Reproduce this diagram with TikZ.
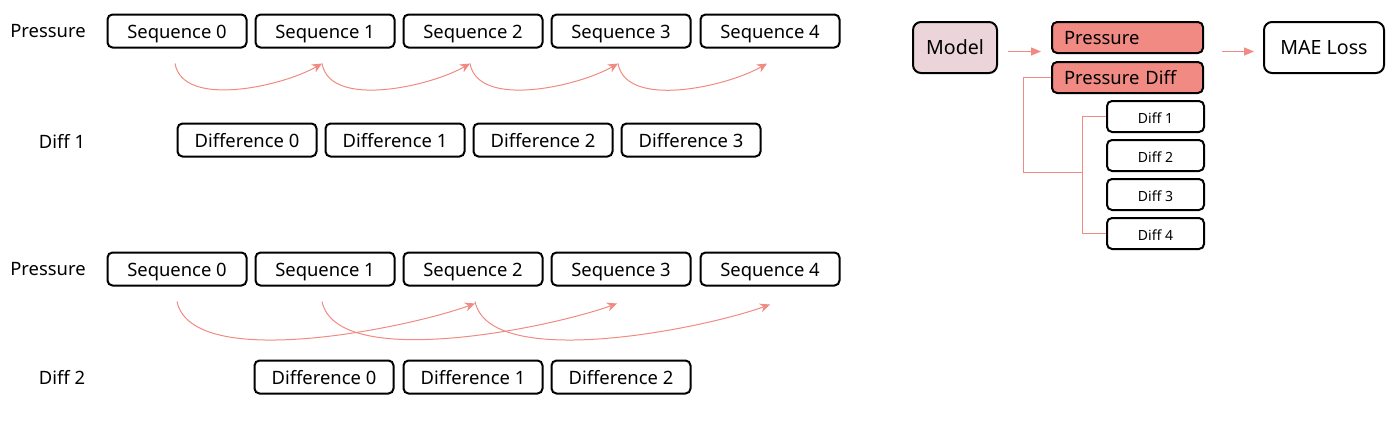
\documentclass[tikz,border=0pt]{standalone}
\usepackage{fontspec}
\setmainfont{Noto Sans}
\usetikzlibrary{arrows.meta,positioning}
\definecolor{salmon}{HTML}{F08A82}
\definecolor{modelpink}{HTML}{EBD5DA}
\tikzset{every node/.style={font=\fontsize{9.2}{11}\selectfont}}
\tikzset{seqbox/.style={draw,line width=1pt,rounded corners=2.5pt,minimum width=69.5pt,minimum height=16.5pt,inner sep=0pt,text height=0.95em,text depth=0.25em}}
\tikzset{diffbox/.style={seqbox,minimum width=48.5pt,minimum height=15.5pt,font=\fontsize{7}{9}\selectfont}}
\tikzset{outbox/.style={seqbox,fill=salmon,minimum height=15.5pt,text width=63.5pt,inner xsep=6pt,align=left}}
\tikzset{hop/.style={draw=salmon,line width=0.5pt,-{Stealth[length=5pt,width=4.5pt]}}}
\tikzset{flow/.style={draw=salmon,line width=0.6pt,-{Triangle[length=5pt,width=4pt]}}}
\tikzset{link/.style={draw=salmon,line width=0.5pt}}

\begin{document}
\begin{tikzpicture}[x=0.5pt,y=-0.5pt]
	\useasboundingbox (0,0) rectangle (1400,423);

	% first differences
	\node (pa) at (48,31) {Pressure};
	\node[seqbox] (a0) at (177,31) {Sequence 0};
	\node[seqbox] (a1) at (325,31) {Sequence 1};
	\node[seqbox] (a2) at (473,31) {Sequence 2};
	\node[seqbox] (a3) at (621,31) {Sequence 3};
	\node[seqbox] (a4) at (770,31) {Sequence 4};

	\node (da) at (62,141) {Diff 1};
	\node[seqbox] (d0) at (247,140) {Difference 0};
	\node[seqbox] (d1) at (395,140) {Difference 1};
	\node[seqbox] (d2) at (543,140) {Difference 2};
	\node[seqbox] (d3) at (691,140) {Difference 3};

	\draw[hop] ([xshift=-1pt,yshift=-7.5pt]a0.south) to[out=-80,in=-150,looseness=0.8] ([xshift=-1.5pt,yshift=-7.5pt]a1.south);
	\draw[hop] ([xshift=-1.5pt,yshift=-7.5pt]a1.south) to[out=-80,in=-150,looseness=0.8] ([xshift=-1.5pt,yshift=-7.5pt]a2.south);
	\draw[hop] ([xshift=-1.5pt,yshift=-7.5pt]a2.south) to[out=-80,in=-150,looseness=0.8] ([xshift=-1.5pt,yshift=-7.5pt]a3.south);
	\draw[hop] ([xshift=-1.5pt,yshift=-7.5pt]a3.south) to[out=-80,in=-150,looseness=0.8] ([xshift=-1.5pt,yshift=-7.5pt]a4.south);

	% second differences
	\node (pb) at (48,269) {Pressure};
	\node[seqbox] (b0) at (177,269) {Sequence 0};
	\node[seqbox] (b1) at (325,269) {Sequence 1};
	\node[seqbox] (b2) at (473,269) {Sequence 2};
	\node[seqbox] (b3) at (621,269) {Sequence 3};
	\node[seqbox] (b4) at (770,269) {Sequence 4};

	\node (db) at (62,377) {Diff 2};
	\node[seqbox] (e0) at (324,377) {Difference 0};
	\node[seqbox] (e1) at (473,377) {Difference 1};
	\node[seqbox] (e2) at (621,377) {Difference 2};

	\draw[hop] ([yshift=-7.5pt]b0.south) to[out=-78,in=-160,looseness=0.62] ([xshift=1pt,yshift=-8.5pt]b2.south);
	\draw[hop] ([xshift=-1.5pt,yshift=-7.5pt]b1.south) to[out=-78,in=-160,looseness=0.62] ([xshift=-2pt,yshift=-8.5pt]b3.south);
	\draw[hop] ([xshift=1pt,yshift=-7.5pt]b2.south) to[out=-78,in=-160,looseness=0.62] ([yshift=-9pt]b4.south);

	% model outputs
	\node[seqbox,fill=modelpink,rounded corners=4pt,minimum width=42pt,minimum height=25.5pt,font=\fontsize{9.8}{11}\selectfont] (model) at (955,47.5) {Model};
	\node[outbox] (pres) at (1127.5,37.5) {Pressure};
	\node[outbox] (pdiff) at (1127.5,77.5) {Pressure Diff};
	\node[seqbox,rounded corners=4pt,minimum width=60pt,minimum height=25.5pt,font=\fontsize{9.8}{11}\selectfont] (mae) at (1324,47.5) {MAE Loss};

	\node[diffbox] (f1) at (1155.5,116.5) {Diff 1};
	\node[diffbox] (f2) at (1155.5,155.5) {Diff 2};
	\node[diffbox] (f3) at (1155.5,194.5) {Diff 3};
	\node[diffbox] (f4) at (1155.5,233.5) {Diff 4};

	\draw[flow] ([xshift=5pt,yshift=-2pt]model.east) -- ([xshift=-5pt,yshift=-2pt]model.east -| pres.west);
	\draw[flow] ([xshift=9pt,yshift=-2pt]mae.west -| pres.east) -- ([xshift=-4.5pt,yshift=-2pt]mae.west);

	\draw[link] (pdiff.west) -- ++(-14pt,0) |- ([xshift=-12pt]f2.south west);
	\draw[link] (f1.west) -- ++(-12pt,0) |- (f4.west);

\end{tikzpicture}
\end{document}
